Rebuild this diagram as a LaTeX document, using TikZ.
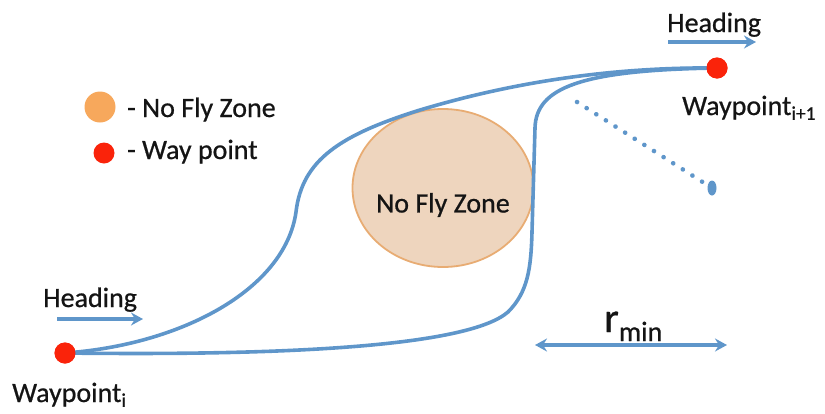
\documentclass[tikz,border=0pt]{standalone}
\usepackage{fontspec}
\setmainfont[FakeBold=0.7]{Carlito}
\usetikzlibrary{arrows.meta,shapes.geometric}
\definecolor{pathblue}{RGB}{95,150,202}
\definecolor{wpred}{RGB}{250,35,10}
\definecolor{nfzorange}{RGB}{247,168,92}
\definecolor{nfzfill}{RGB}{238,213,190}
\definecolor{nfzedge}{RGB}{232,172,115}
\definecolor{txt}{RGB}{20,20,20}
\tikzset{
  lbl/.style={font=\fontsize{28}{33}\selectfont, text=txt, inner sep=0pt},
  pathline/.style={draw=pathblue, line width=3.6pt},
  headarrow/.style={draw=pathblue, line width=3.6pt, -{Stealth[length=12pt,width=13pt,inset=4pt]}},
  wpdot/.style={circle, fill=wpred, minimum size=21pt, inner sep=0pt},
}
\begin{document}
\begin{tikzpicture}[x=1pt,y=-1pt]
\useasboundingbox (0,0) rectangle (825,413);
% no fly zone
\node[ellipse, fill=nfzfill, draw=nfzedge, line width=1.8pt, minimum width=181pt, minimum height=158pt] (nfz) at (443,188) {};
\node[lbl] (nfztext) at ([yshift=-17pt]nfz.center) {No Fly Zone};
% waypoints
\node[wpdot] (wpi) at (65,353) {};
\node[wpdot] (wpj) at (717,68) {};
% paths
\draw[pathline] (wpi.center) .. controls (180,345) and (285,290) .. (296,212)
  .. controls (302,160) and (340,135) .. (420,110)
  .. controls (520,80) and (620,67) .. (wpj.center);
\draw[pathline] (wpi.center) .. controls (300,356) and (470,345) .. (508,312)
  .. controls (528,292) and (531,268) .. (532,232)
  -- (535,128) .. controls (536,88) and (580,70) .. (wpj.center);
\node[wpdot] at (wpi) {};
\node[wpdot] at (wpj) {};
% labels
\node[lbl, anchor=base west] (wpilbl) at (12,402) {Waypoint\textsubscript{i}};
\node[lbl, anchor=base west] (wpjlbl) at (682,115) {Waypoint\textsubscript{i+1}};
% headings
\node[lbl, anchor=base west] (h1) at (43,307) {Heading};
\coordinate (h1a) at (57,319);
\coordinate (h1b) at (143,319);
\draw[headarrow] (h1a) -- (h1b);
\node[lbl, anchor=base west] (h2) at (667,32) {Heading};
\coordinate (h2a) at (668,42);
\coordinate (h2b) at (756,42);
\draw[headarrow] (h2a) -- (h2b);
% legend
\node[circle, fill=nfzorange, minimum size=31pt, inner sep=0pt] (lego) at (100,107) {};
\node[lbl, anchor=base west] (legotxt) at (127,117) {- No Fly Zone};
\node[circle, fill=wpred, minimum size=21pt, inner sep=0pt] (legr) at (104,153) {};
\node[lbl, anchor=base west] (legrtxt) at (127,159) {- Way point};
% dotted radius
\node[ellipse, fill=pathblue, minimum width=9pt, minimum height=15pt, inner sep=0pt] (cdot) at (712,188) {};
\coordinate (dstart) at (577,102);
\draw[draw=pathblue, line width=4.6pt, line cap=round, dash pattern=on 0.1pt off 11.3pt] (dstart) -- (cdot);
% r_min
\coordinate (ra) at (535,345);
\coordinate (rb) at (727,345);
\draw[draw=pathblue, line width=3.6pt, {Stealth[length=12pt,width=13pt,inset=4pt]}-{Stealth[length=12pt,width=13pt,inset=4pt]}] (ra) -- (rb);
\node[inner sep=0pt, anchor=base west, text=txt] (rmin) at (604,332) {\fontsize{42}{46}\selectfont r\raisebox{-9pt}{\fontsize{28}{32}\selectfont min}};
\end{tikzpicture}
\end{document}
